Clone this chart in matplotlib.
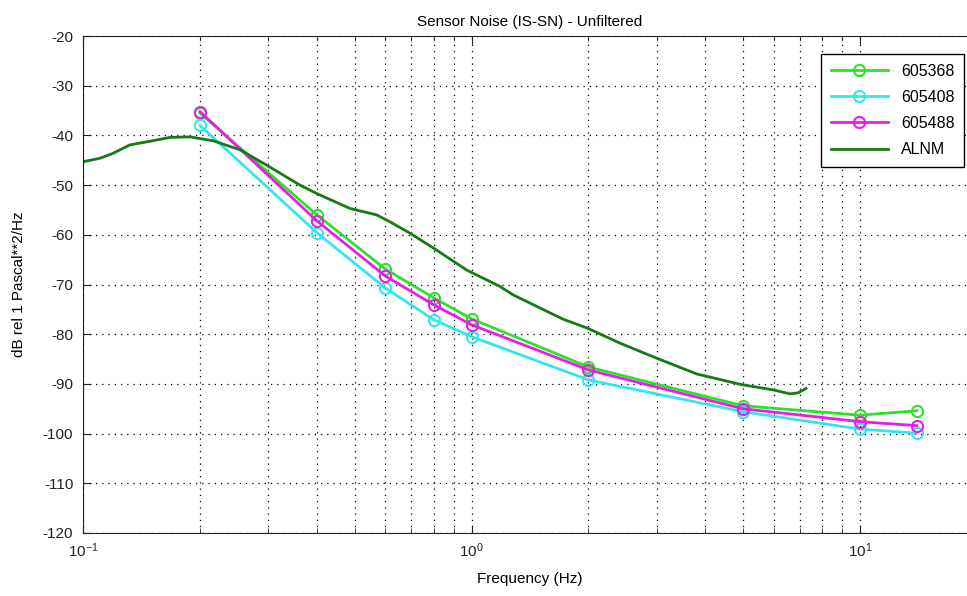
import matplotlib
matplotlib.use("Agg")
import matplotlib.pyplot as plt
from matplotlib.ticker import LogLocator, NullFormatter

# Values
freq = [0.2, 0.4, 0.6, 0.8, 1.0, 2.0, 5.0, 10.0, 14.0]
s605368 = [-35.5, -56.0, -66.9, -72.7, -76.9, -86.6, -94.4, -96.3, -95.4]
s605408 = [-38.0, -59.6, -70.7, -77.1, -80.5, -89.2, -95.6, -99.1, -99.9]
s605488 = [-35.2, -57.2, -68.3, -74.1, -78.1, -87.2, -95.0, -97.6, -98.4]

alnm_freq = [0.1, 0.1106, 0.1195, 0.1321, 0.1459, 0.1675, 0.1887, 0.2166, 0.2537,
             0.2971, 0.3618, 0.3996, 0.4866, 0.570, 0.6172, 0.6952, 0.8136, 0.972,
             1.184, 1.28, 1.723, 1.99, 2.41, 2.99, 3.80, 4.63, 5.00, 5.97, 6.60,
             6.93, 7.26]
alnm_db = [-45.3, -44.6, -43.6, -41.9, -41.3, -40.4, -40.3, -41.1, -42.9,
           -46.0, -50.0, -51.7, -54.7, -56.0, -57.4, -59.7, -63.1, -67.1,
           -70.4, -72.1, -77.0, -78.8, -81.8, -84.8, -88.0, -89.6, -90.2, -91.2, -92.0,
           -91.8, -90.9]


def main():
    plt.rcParams["font.family"] = ["Liberation Sans", "DejaVu Sans"]
    plt.rcParams["mathtext.fontset"] = "custom"
    plt.rcParams["mathtext.rm"] = "Liberation Sans"
    plt.rcParams["axes.unicode_minus"] = False
    plt.rcParams["font.size"] = 11

    fig = plt.figure(figsize=(9.67, 5.96), dpi=100)
    ax = fig.add_axes([83 / 967, 1 - 533 / 596, (977 - 83) / 967, (533 - 36) / 596])

    mk = dict(marker="o", markersize=8, markerfacecolor="none", markeredgewidth=1.5, linewidth=2)
    ax.plot(freq, s605368, color="#2ee02e", label="605368", **mk)
    ax.plot(freq, s605408, color="#33e6ee", label="605408", **mk)
    ax.plot(freq, s605488, color="#e61ee6", label="605488", **mk)
    ax.plot(alnm_freq, alnm_db, color="#167a16", linewidth=2, label="ALNM")

    ax.set_xscale("log")
    ax.set_xlim(0.1, 20)
    ax.set_ylim(-120, -20)
    ax.set_yticks(range(-120, -19, 10))
    ax.xaxis.set_minor_locator(LogLocator(base=10, subs=range(2, 10)))
    ax.xaxis.set_minor_formatter(NullFormatter())

    ax.grid(True, which="major", linestyle=(0, (1, 4)), color="black", linewidth=0.9)
    ax.grid(True, which="minor", axis="x", linestyle=(0, (1, 4)), color="black", linewidth=0.9)
    ax.tick_params(which="both", direction="in", top=True, right=True, colors="#222222")
    ax.tick_params(which="major", length=6)
    ax.tick_params(which="minor", length=3.5)
    ax.tick_params(axis="x", which="major", pad=6)
    ax.tick_params(axis="y", which="major", pad=7)
    for sp in ax.spines.values():
        sp.set_color("#222222")

    ax.set_title("Sensor Noise (IS-SN) - Unfiltered", fontsize=11, pad=7)
    ax.set_xlabel("Frequency (Hz)", fontsize=11, labelpad=9)
    ax.set_ylabel("dB rel 1 Pascal**2/Hz", fontsize=11, labelpad=12)

    leg = ax.legend(loc="upper right", bbox_to_anchor=(972 / 967, 1 - 46 / 596),
                    bbox_transform=fig.transFigure, handlelength=3.6, fontsize=11.5,
                    fancybox=False, framealpha=1, edgecolor="black", borderpad=0.6,
                    labelspacing=0.7)
    leg.get_frame().set_linewidth(1.0)

    fig.savefig("out.png", dpi=100)


if __name__ == "__main__":
    main()
